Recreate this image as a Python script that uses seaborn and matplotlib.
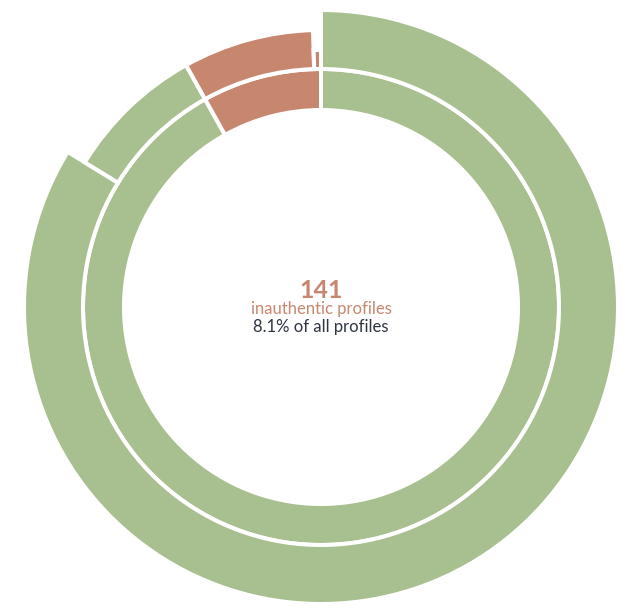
import numpy as np
import matplotlib
matplotlib.use("Agg")
import matplotlib.pyplot as plt
import seaborn as sns

# ---- data ----
inner_labels = ["authentic", "inauthentic"]
inner_values = [1600, 141]
inner_colors = ["green", "orange"]

outer_labels = ["authentic A", "authentic B", "inauthentic A", "inauthentic B"]
outer_values = [1458, 142, 133, 8]
outer_colors = ["green", "green", "orange", "orange"]
outer_extent = [297, 277, 277, 257]  # outer radius per segment (px)

center_big = "141"
center_mid = "inauthentic profiles"
center_low = "8.1% of all profiles"

# ---- style ----
sns.set_theme(style="white")
plt.rcParams['font.family'] = ['Lato', 'DejaVu Sans']
palette = {"green": "#a8bf90", "orange": "#c7876f"}
TXT_ORANGE = "#c7876f"
TXT_DARK = "#2e3442"

W, H = 637, 611
fig = plt.figure(figsize=(W / 100, H / 100), dpi=100)
R = 300
cx, cy = 321, 307
ax = fig.add_axes([(cx - R) / W, (H - cy - R) / H, 2 * R / W, 2 * R / H], projection="polar")
ax.set_theta_zero_location("N")
ax.set_theta_direction(-1)
ax.set_ylim(0, R)
ax.set_axis_off()

def ring(values, colors, r_in, r_out):
    vals = np.asarray(values, dtype=float)
    widths = vals / vals.sum() * 2 * np.pi
    starts = np.concatenate([[0], np.cumsum(widths)[:-1]])
    r_out = np.broadcast_to(np.asarray(r_out, dtype=float), vals.shape)
    ax.bar(starts, r_out - r_in, width=widths, bottom=r_in, align="edge",
           color=[palette[c] for c in colors], edgecolor="white", linewidth=2.9)

ring(inner_values, inner_colors, 197, 238)
ring(outer_values, outer_colors, 238, outer_extent)

fig.text(cx / W, 1 - 290 / H, center_big, ha="center", va="center",
         color=TXT_ORANGE, fontsize=18, fontweight="bold")
fig.text(cx / W, 1 - 309 / H, center_mid, ha="center", va="center",
         color=TXT_ORANGE, fontsize=12)
fig.text(cx / W, 1 - 327 / H, center_low, ha="center", va="center",
         color=TXT_DARK, fontsize=12)

fig.savefig("out.png", dpi=100, facecolor="white")
